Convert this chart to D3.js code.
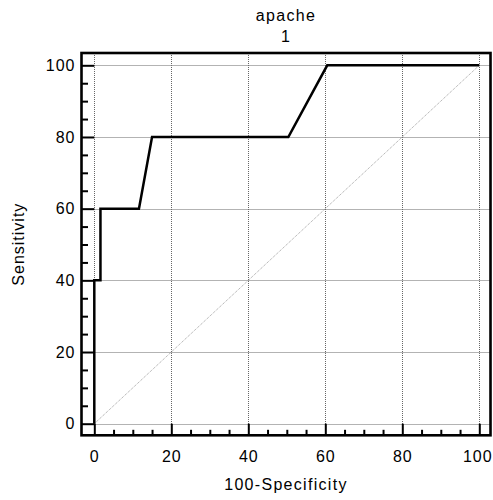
<!DOCTYPE html>
<html>
<head>
<meta charset="utf-8">
<script src="https://cdn.jsdelivr.net/npm/d3@7"></script>
<style>
    body { margin: 0; background: #fff; }
    svg text { font-family: "Liberation Sans", Arial, Helvetica, sans-serif; fill: #000; }
</style>
</head>
<body>
<div id="chart"></div>
<script>
// ROC curve points (100-Specificity, Sensitivity)
const specificity = [0, 0, 1.6, 1.6, 11.6, 15, 50.4, 60.5, 100];
const sensitivity = [0, 40, 40, 60, 60, 80, 80, 100, 100];
const majorTicks = [0, 20, 40, 60, 80, 100];
const minorTicks = [5, 10, 15, 25, 30, 35, 45, 50, 55, 65, 70, 75, 85, 90, 95];
const titleLines = ['apache', '1'];

const width = 493, height = 500;

// Plot frame (box) and data range inside it
const frame = {left: 81.5, right: 490.5, top: 53, bottom: 435.3};

const x = d3.scaleLinear().domain([0, 100]).range([94.3, 479.3]);
const y = d3.scaleLinear().domain([0, 100]).range([423.7, 65.3]);

const svg = d3.select('#chart')
    .append('svg')
    .attr('width', width)
    .attr('height', height);

// Grid lines
const grid = svg.append('g')
    .attr('stroke', '#666')
    .attr('stroke-width', 1)
    .attr('stroke-dasharray', '1,1');

grid.selectAll('.vgrid')
    .data(majorTicks)
    .enter()
    .append('line')
    .attr('x1', d => Math.round(x(d)) + 0.5)
    .attr('x2', d => Math.round(x(d)) + 0.5)
    .attr('y1', frame.top)
    .attr('y2', frame.bottom);

grid.selectAll('.hgrid')
    .data(majorTicks)
    .enter()
    .append('line')
    .attr('y1', d => Math.round(y(d)) + 0.5)
    .attr('y2', d => Math.round(y(d)) + 0.5)
    .attr('x1', frame.left)
    .attr('x2', frame.right);

// Reference diagonal
svg.append('line')
    .attr('x1', x(0))
    .attr('y1', y(0))
    .attr('x2', x(100))
    .attr('y2', y(100))
    .attr('stroke', '#888')
    .attr('stroke-width', 0.8)
    .attr('stroke-dasharray', '1,1');

// ROC curve
const points = specificity.map((d, i) => [d, sensitivity[i]]);
svg.append('path')
    .datum(points)
    .attr('fill', 'none')
    .attr('stroke', '#000')
    .attr('stroke-width', 2.5)
    .attr('stroke-linejoin', 'miter')
    .attr('d', d3.line().x(d => x(d[0])).y(d => y(d[1])));

// Axes: ticks point inward from the frame
function styleAxis(g) {
    g.select('.domain').remove();
    g.selectAll('line').attr('stroke', '#000').attr('stroke-width', 2);
    g.selectAll('text')
        .style('font-size', '16px')
        .style('letter-spacing', '1px');
}

const xAxis = svg.append('g')
    .attr('transform', `translate(0,${frame.bottom})`)
    .call(d3.axisBottom(x).tickValues(majorTicks)
        .tickSize(-(frame.bottom - y(0))).tickPadding(15))
    .call(styleAxis);

// last label sits a little left so it stays inside the page
xAxis.selectAll('text').attr('dx', d => d === 100 ? -2 : 0);

svg.append('g')
    .attr('transform', `translate(0,${frame.bottom})`)
    .call(d3.axisBottom(x).tickValues(minorTicks)
        .tickSize(-5.5).tickFormat(''))
    .call(styleAxis);

svg.append('g')
    .attr('transform', `translate(${frame.left},0)`)
    .call(d3.axisLeft(y).tickValues(majorTicks)
        .tickSize(-(x(0) - frame.left)).tickPadding(6))
    .call(styleAxis);

svg.append('g')
    .attr('transform', `translate(${frame.left},0)`)
    .call(d3.axisLeft(y).tickValues(minorTicks)
        .tickSize(-6.5).tickFormat(''))
    .call(styleAxis);

// Frame
svg.append('rect')
    .attr('x', frame.left)
    .attr('y', frame.top)
    .attr('width', frame.right - frame.left)
    .attr('height', frame.bottom - frame.top)
    .attr('fill', 'none')
    .attr('stroke', '#000')
    .attr('stroke-width', 2.6);

// Title
const cx = (frame.left + frame.right) / 2;
svg.selectAll('.title')
    .data(titleLines)
    .enter()
    .append('text')
    .attr('x', cx)
    .attr('y', (d, i) => 21 + i * 21)
    .attr('text-anchor', 'middle')
    .style('font-size', '16px')
    .style('letter-spacing', '1.3px')
    .text(d => d);

// Axis labels
svg.append('text')
    .attr('x', cx)
    .attr('y', 490)
    .attr('text-anchor', 'middle')
    .style('font-size', '16px')
    .style('letter-spacing', '1.3px')
    .text('100-Specificity');

svg.append('text')
    .attr('transform', `translate(24,${(frame.top + frame.bottom) / 2}) rotate(-90)`)
    .attr('text-anchor', 'middle')
    .style('font-size', '16px')
    .style('letter-spacing', '1px')
    .text('Sensitivity');
</script>
</body>
</html>
